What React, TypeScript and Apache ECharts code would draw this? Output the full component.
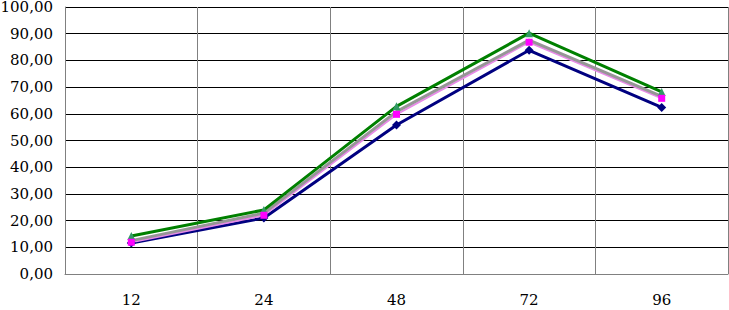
import React, { useEffect, useRef } from "react";
import * as echarts from "echarts";

const categories = ["12", "24", "48", "72", "96"];
const navySeries = [11.6, 21.0, 55.8, 83.8, 62.4];
const pinkSeries = [11.9, 22.0, 59.8, 86.8, 65.8];
const graySeries = [12.5, 22.8, 60.8, 87.6, 66.5];
const greenSeries = [14.2, 24.0, 62.8, 90.2, 68.2];

export default function App() {
  const ref = useRef<HTMLDivElement>(null);
  useEffect(() => {
    if (!ref.current) return;
    const chart = echarts.init(ref.current, null, { renderer: "svg" });
    const font = "DejaVu Serif";
    chart.setOption({
      animation: false,
      backgroundColor: "#ffffff",
      textStyle: { fontFamily: font },
      grid: { left: 65, right: 1, top: 7, bottom: 36, containLabel: false, outerBoundsMode: "none" },
      xAxis: {
        type: "category",
        data: categories,
        boundaryGap: true,
        axisLine: { show: true, lineStyle: { color: "#808080", width: 1 } },
        axisTick: { show: false },
        axisLabel: { color: "#000", fontFamily: font, fontSize: 15, margin: 18 },
        splitLine: { show: true, interval: 0, lineStyle: { color: "#808080", width: 1 } },
      },
      yAxis: {
        type: "value",
        min: 0,
        max: 100,
        interval: 10,
        axisLine: { show: true, lineStyle: { color: "#808080", width: 1 } },
        axisTick: { show: false },
        axisLabel: {
          color: "#000",
          fontFamily: font,
          fontSize: 15,
          margin: 12,
          formatter: (v: number) => v.toFixed(2).replace(".", ","),
        },
        splitLine: { show: true, lineStyle: { color: "#000", width: 1 } },
      },
      series: [
        {
          name: "A",
          type: "line",
          data: navySeries,
          symbol: "diamond",
          symbolSize: 9,
          lineStyle: { color: "#000080", width: 3 },
          itemStyle: { color: "#000080" },
        },
        {
          name: "B",
          type: "line",
          data: pinkSeries,
          symbol: "none",
          lineStyle: { color: "#E88AE8", width: 2 },
          itemStyle: { color: "#FF00FF" },
        },
        {
          name: "C",
          type: "line",
          data: graySeries,
          symbol: "none",
          lineStyle: { color: "#969696", width: 3 },
          itemStyle: { color: "#969696" },
        },
        {
          name: "D",
          type: "line",
          data: greenSeries,
          symbol: "triangle",
          symbolSize: 8,
          lineStyle: { color: "#008000", width: 3 },
          itemStyle: { color: "#339966" },
        },
        {
          name: "E",
          type: "line",
          data: pinkSeries,
          symbol: "rect",
          symbolSize: 7,
          lineStyle: { width: 0, opacity: 0 },
          itemStyle: { color: "#FF00FF" },
        },
      ],
    });
    return () => chart.dispose();
  }, []);
  return <div ref={ref} style={{ width: 729, height: 310, position: "absolute", left: 0, top: 0 }} />;
}
